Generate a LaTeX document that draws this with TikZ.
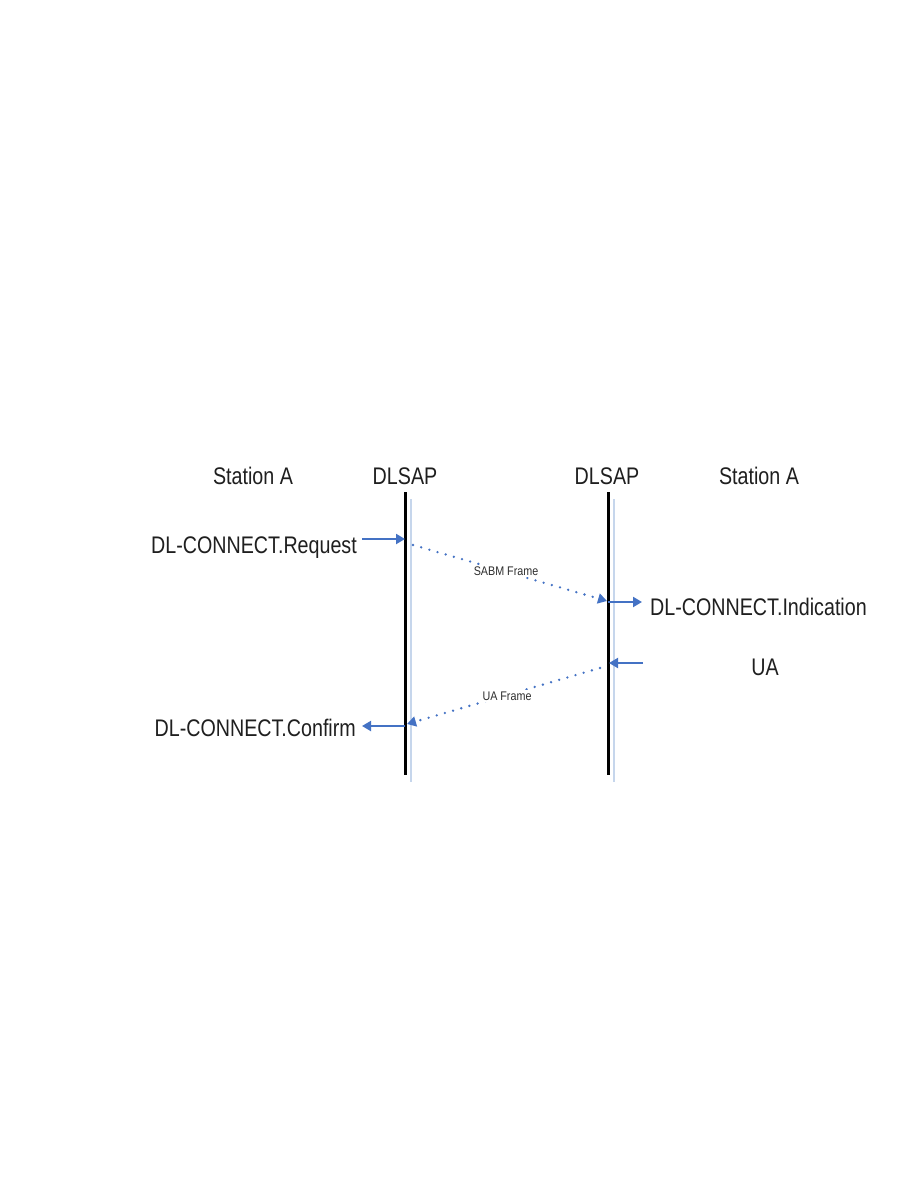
\documentclass[tikz,border=0pt]{standalone}
\usepackage{fontspec}
\setmainfont{Liberation Sans}[FakeStretch=0.82]
\newfontfamily\smallfont{Liberation Sans}[FakeStretch=0.86]
\usetikzlibrary{arrows.meta}
\definecolor{arrblue}{HTML}{4472C4}
\definecolor{shadeblue}{HTML}{C6D6EC}
\begin{document}
\begin{tikzpicture}[x=1pt,y=-1pt,
  lbl/.style={inner sep=0pt,font=\fontsize{24}{28}\selectfont,text=black!88},
  frm/.style={inner sep=1.5pt,fill=white,font=\smallfont\fontsize{12.5}{14}\selectfont,text=black!82},
  life/.style={line width=3pt,black},
  shade/.style={line width=2pt,shadeblue},
  msg/.style={line width=2pt,arrblue,-{Triangle[width=10pt,length=9pt]}},
  frame/.style={line width=2.6pt,arrblue,dash pattern=on 0pt off 8.5pt,line cap=round,-{Triangle[width=10pt,length=9pt,line cap=butt]}}]
\useasboundingbox (0,0) rectangle (918,1188);
\fill[white] (0,0) rectangle (918,1188);
% headers
\node[lbl,anchor=base] (stA) at (253,484) {Station A};
\node[lbl,anchor=base] (dlA) at (405,484) {DLSAP};
\node[lbl,anchor=base] (dlB) at (607,484) {DLSAP};
\node[lbl,anchor=base] (stB) at (759,484) {Station A};
% lifelines
\coordinate (shAt) at (410.5,499);
\coordinate (shAb) at (410.5,782);
\coordinate (shBt) at (614,499);
\coordinate (shBb) at (614,782);
\draw[shade] (shAt) -- (shAb);
\draw[shade] (shBt) -- (shBb);
\coordinate (lAt) at (405,492);
\coordinate (lAb) at (405,775);
\coordinate (lBt) at (608,492);
\coordinate (lBb) at (608,775);
\draw[life] (lAt) -- (lAb);
\draw[life] (lBt) -- (lBb);
% texts
\node[lbl,anchor=base east] (req) at (357,553) {DL-CONNECT.Request};
\node[lbl,anchor=base west] (ind) at (650,615) {DL-CONNECT.Indication};
\node[lbl,anchor=base] (ua) at (765,675) {UA};
\node[lbl,anchor=base east] (conf) at (356,736) {DL-CONNECT.Confirm};
% arrow points
\coordinate (r1) at (362,539);
\coordinate (r2) at (405,539);
\coordinate (s1) at (413,545);
\coordinate (s2) at (607,601);
\coordinate (i1) at (608,602);
\coordinate (i2) at (642,602);
\coordinate (u1) at (643,663);
\coordinate (u2) at (609,663);
\coordinate (f1) at (600,668);
\coordinate (f2) at (407,724);
\coordinate (c1) at (405,726);
\coordinate (c2) at (362,726);
\draw[msg] (r1) -- (r2);
\draw[frame] (s1) -- (s2);
\draw[msg] (i1) -- (i2);
\draw[msg] (u1) -- (u2);
\draw[frame] (f1) -- (f2);
\draw[msg] (c1) -- (c2);
% frame labels over the dotted lines
\node[frm,anchor=base] (sabm) at (506,575) {SABM Frame};
\node[frm,anchor=base] (uaf) at (507,700) {UA Frame};
\end{tikzpicture}
\end{document}
